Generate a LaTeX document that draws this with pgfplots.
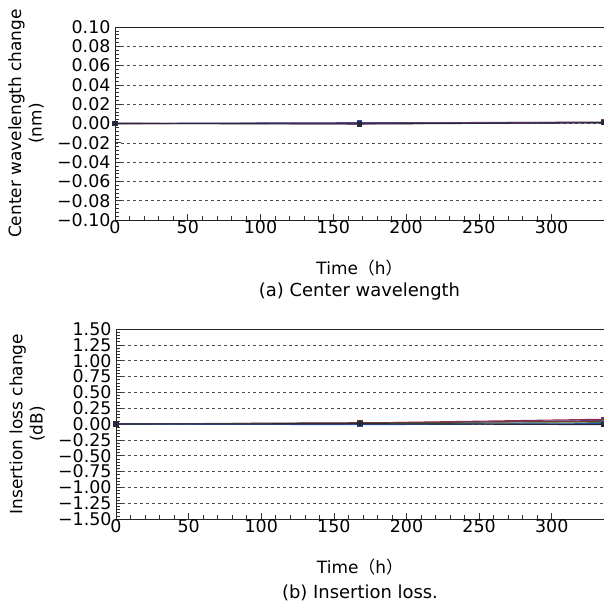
\documentclass[border=0pt]{standalone}
\usepackage{fontspec}
\setmainfont{DejaVu Sans}
\newfontfamily\cjk{Noto Sans CJK JP}
\usepackage{pgfplots}
\pgfplotsset{compat=1.18}
\definecolor{s1}{RGB}{40,40,60}
\definecolor{s2}{RGB}{50,80,170}
\definecolor{s3}{RGB}{150,40,80}
\definecolor{s4}{RGB}{120,60,40}
\definecolor{s5}{RGB}{90,60,140}
\definecolor{s6}{RGB}{60,120,80}
\pgfplotsset{
  mystyle/.style={
    scale only axis,
    width=489bp,
    xmin=0, xmax=336,
    xtick={0,50,...,300},
    xticklabels={0,50,100,150,200,250,300},
    minor x tick num=4,
    minor y tick num=4,
    tick align=inside,
    xtick pos=bottom, ytick pos=left,
    separate axis lines,
    axis x line*=box,
    axis y line*=left,
    axis line style={line width=0.9pt, black!85},
    major tick length=6bp, minor tick length=3.5bp,
    every tick/.style={black!80, line width=0.6pt},
    ymajorgrids,
    major grid style={dashed, black!70, line width=0.5pt},
    tick label style={font=\fontsize{17.5}{20}\selectfont},
    xticklabel style={yshift=3bp},
    yticklabel style={xshift=-1bp, inner ysep=0pt},
    label style={font=\fontsize{17}{20.5}\selectfont},
    ylabel style={at={(axis description cs:-0.182,0.5)}, anchor=center, align=center},
    xlabel style={at={(axis description cs:0.5,0)}, anchor=north, yshift=-36bp},
    xlabel={Time{\cjk （}h{\cjk ）}},
    every axis plot/.append style={line width=1.1pt, mark=square*, mark size=2bp},
  }
}
\begin{document}
\begin{tikzpicture}
\useasboundingbox (0,0) rectangle (604bp,607bp);
% top panel
\begin{axis}[mystyle,
  at={(115bp,387bp)}, anchor=south west,
  height=193bp,
  ymin=-0.1, ymax=0.1,
  ytick={-0.1,-0.08,-0.06,-0.04,-0.02,0,0.02,0.04,0.06,0.08,0.1},
  yticklabels={−0.10,−0.08,−0.06,−0.04,−0.02,0.00,0.02,0.04,0.06,0.08,0.10},
  ylabel={Center wavelength change\\(nm)},
]
\addplot[s2, mark options={fill=s2}] coordinates {(0,0) (168,0.0008) (336,0.0012)};
\addplot[s4, mark options={fill=s4}] coordinates {(0,0) (168,0.0002) (336,0.0015)};
\addplot[s3, mark options={fill=s3}] coordinates {(0,0) (168,-0.0003) (336,0.0010)};
\addplot[s5, mark options={fill=s5}] coordinates {(0,0) (168,0.0004) (336,0.0006)};
\addplot[s1, mark options={fill=s1}] coordinates {(0,0) (168,-0.0005) (336,0.0008)};
\end{axis}
\node[font=\fontsize{18}{20}\selectfont, anchor=base] at (359.5bp,607bp-297bp) {(a) Center wavelength};
% bottom panel
\begin{axis}[mystyle,
  at={(116bp,88bp)}, anchor=south west,
  width=488bp,
  height=190bp,
  ymin=-1.5, ymax=1.5,
  ytick={-1.5,-1.25,...,1.5},
  yticklabels={−1.50,−1.25,−1.00,−0.75,−0.50,−0.25,0.00,0.25,0.50,0.75,1.00,1.25,1.50},
  ylabel={Insertion loss change\\(dB)},
]
\addplot[s3, mark options={fill=s3}] coordinates {(0,0) (168,0.015) (336,0.075)};
\addplot[s5, mark options={fill=s5}] coordinates {(0,0) (168,0.010) (336,0.055)};
\addplot[s4, mark options={fill=s4}] coordinates {(0,0) (168,0.020) (336,0.040)};
\addplot[s6, mark options={fill=s6}] coordinates {(0,0) (168,0.005) (336,0.020)};
\addplot[s2, mark options={fill=s2}] coordinates {(0,0) (168,-0.010) (336,0.005)};
\addplot[s1, mark options={fill=s1}] coordinates {(0,0) (168,0.005) (336,-0.010)};
\end{axis}
\node[font=\fontsize{18}{20}\selectfont, anchor=base] at (360bp,607bp-598bp) {(b) Insertion loss.};
\end{tikzpicture}
\end{document}
